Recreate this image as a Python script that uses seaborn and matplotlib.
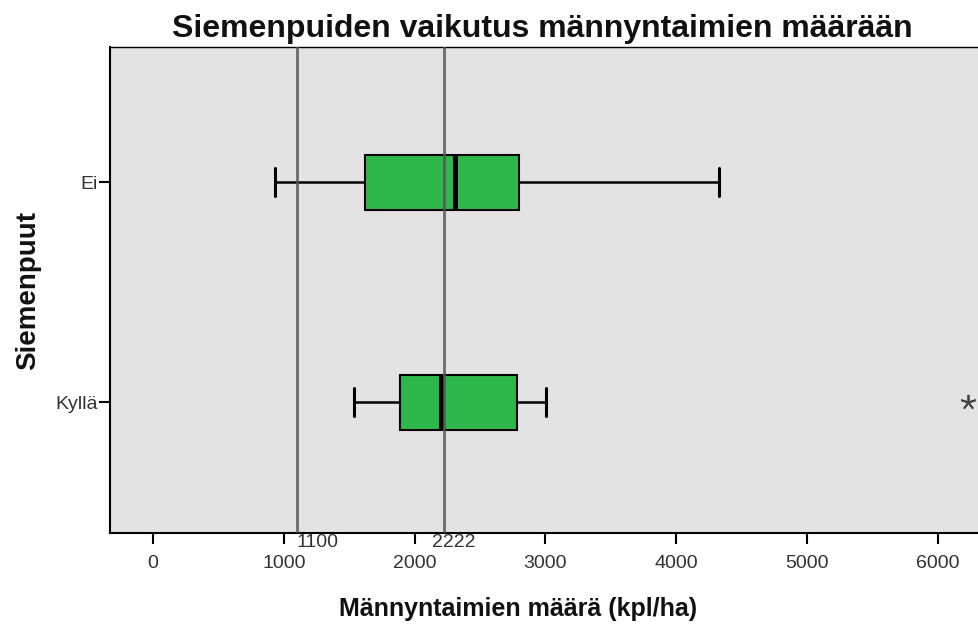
import numpy as np
import pandas as pd
import matplotlib
matplotlib.use("Agg")
import matplotlib.pyplot as plt
import seaborn as sns

# ---- data ----
categories = ["Ei", "Kyllä"]
ei_values = [933, 1621, 2309, 2798, 4327]
kylla_values = [1537, 1888, 1888, 2202, 2202, 2783, 2783, 3005, 6231]
ref_values = [1100, 2222]
ref_labels = ["1100", "2222"]
x_ticks = [0, 1000, 2000, 3000, 4000, 5000, 6000]

title = "Siemenpuiden vaikutus männyntaimien määrään"
xlabel = "Männyntaimien määrä (kpl/ha)"
ylabel = "Siemenpuut"

df = pd.DataFrame({
    "group": [categories[0]] * len(ei_values) + [categories[1]] * len(kylla_values),
    "value": ei_values + kylla_values,
})

sns.set_theme(style="white")
plt.rcParams["font.family"] = ["Liberation Sans", "DejaVu Sans"]

fig = plt.figure(figsize=(9.79, 6.26), dpi=100)
ax = fig.add_axes([110 / 979, 1 - 533 / 626, 1 - 110 / 979, (533 - 47) / 626])
ax.set_facecolor("#E3E3E3")

sns.boxplot(
    data=df, x="value", y="group", order=categories, orient="h",
    ax=ax, width=0.25, color="#2EB84B", saturation=1,
    linecolor="black", linewidth=1.5,
    whiskerprops=dict(linewidth=1.8),
    capprops=dict(linewidth=2.2),
    medianprops=dict(color="black", linewidth=3.5),
    flierprops=dict(marker=(5, 2, 0), markersize=11, markeredgecolor="#444444",
                    markerfacecolor="#444444", markeredgewidth=1.3),
    zorder=3,
)

for v, lab, off in zip(ref_values, ref_labels, [0, -90]):
    ax.axvline(v, color="#555555", linewidth=2, alpha=0.85, zorder=4)
    ax.text(v + off, -0.003, lab, transform=ax.get_xaxis_transform(),
            ha="left", va="top", fontsize=14, color="#333333")

ax.set_xlim(-329, 6315)
ax.set_ylim(1.595, -0.614)
ax.set_xticks(x_ticks)
ax.set_xticklabels([str(t) for t in x_ticks], fontsize=14, color="#333333")
ax.tick_params(axis="x", direction="out", length=8, width=1.5, color="black", pad=8)
ax.tick_params(axis="y", direction="out", length=8, width=1.5, color="black", labelsize=14,
               labelcolor="#333333", pad=1)
ax.xaxis.set_ticks_position("bottom")
ax.yaxis.set_ticks_position("left")

for side, sp in ax.spines.items():
    sp.set_visible(True)
    sp.set_color("black")
    sp.set_linewidth(1.5 if side in ("left", "bottom") else 1.0)

ax.set_xlabel("")
ax.set_ylabel("")
fig.text(518 / 979, 1 - 609 / 626, xlabel, ha="center", va="center",
         fontsize=18, fontweight="bold", color="#111111")
fig.text(28 / 979, 1 - 291 / 626, ylabel, ha="center", va="center", rotation=90,
         fontsize=20, fontweight="bold", color="#111111")
fig.text(542 / 979, 1 - 29 / 626, title, ha="center", va="center",
         fontsize=23, fontweight="bold", color="#111111")

fig.savefig("out.png", dpi=100, facecolor="white")
